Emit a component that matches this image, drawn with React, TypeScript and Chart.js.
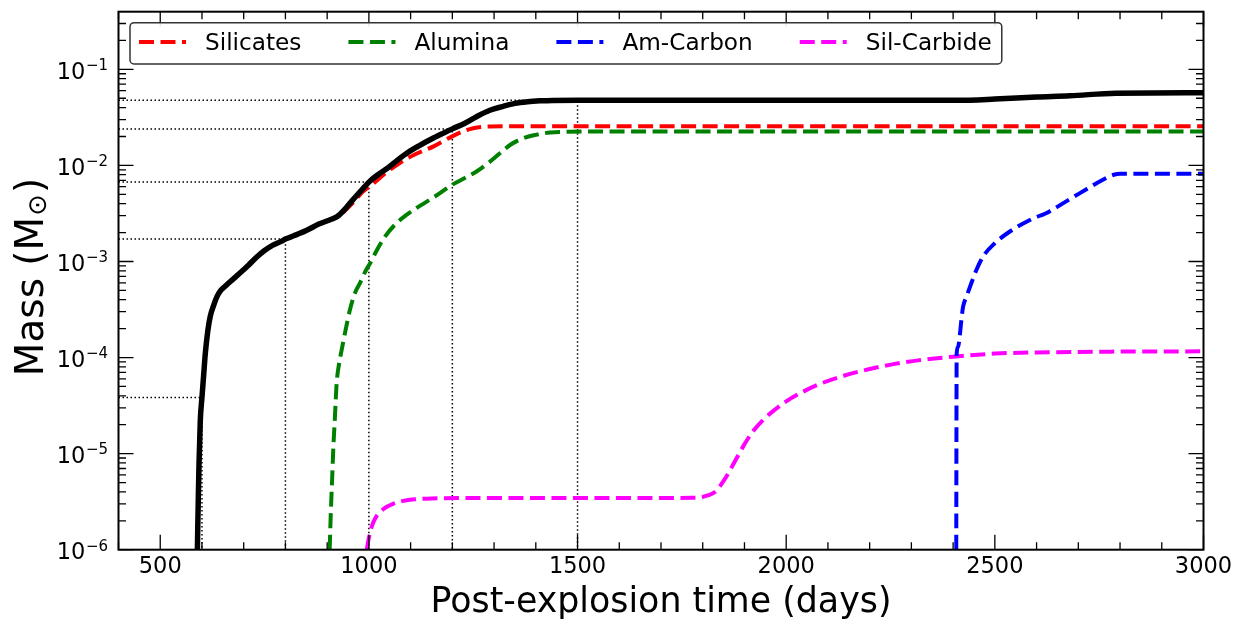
import React, { useEffect, useRef } from "react";
import { Chart, registerables } from "chart.js";

Chart.register(...registerables);

const FONT = "'DejaVu Sans', 'Liberation Sans', sans-serif";

// ---- data ----
const totalDays = [589, 591, 593, 596, 600, 604, 608, 614, 620, 628, 636, 645, 655, 668, 682, 697, 712, 730, 750, 770, 790, 800, 820, 850, 880, 910, 925, 945, 960, 975, 990, 1000, 1020, 1045, 1070, 1095, 1120, 1150, 1180, 1200, 1230, 1260, 1290, 1320, 1350, 1380, 1410, 1440, 1500, 2410, 2500, 2600, 2680, 2790, 3000];
const totalMass = [1e-6, 3e-6, 8e-6, 2.2e-5, 3.85e-5, 6.5e-5, 1.1e-4, 1.9e-4, 2.7e-4, 3.5e-4, 4.3e-4, 5.0e-4, 5.5e-4, 6.2e-4, 7.0e-4, 8.0e-4, 9.2e-4, 1.1e-3, 1.3e-3, 1.48e-3, 1.62e-3, 1.71e-3, 1.85e-3, 2.1e-3, 2.45e-3, 2.75e-3, 2.95e-3, 3.6e-3, 4.3e-3, 5.1e-3, 6.0e-3, 6.7e-3, 7.9e-3, 9.4e-3, 1.15e-2, 1.38e-2, 1.6e-2, 1.88e-2, 2.18e-2, 2.4e-2, 2.75e-2, 3.25e-2, 3.75e-2, 4.1e-2, 4.42e-2, 4.6e-2, 4.7e-2, 4.75e-2, 4.76e-2, 4.76e-2, 4.9e-2, 5.15e-2, 5.3e-2, 5.65e-2, 5.7e-2];

const silicatesDays = [589, 591, 593, 596, 600, 604, 608, 614, 620, 628, 636, 645, 655, 668, 682, 697, 712, 730, 750, 770, 790, 800, 820, 850, 880, 910, 925, 940, 962, 985, 1007, 1040, 1074, 1110, 1154, 1202, 1230, 1250, 1270, 1290, 1320, 1400, 3000];
const silicatesMass = [1e-6, 3e-6, 8e-6, 2.2e-5, 3.85e-5, 6.5e-5, 1.1e-4, 1.9e-4, 2.7e-4, 3.5e-4, 4.3e-4, 5.0e-4, 5.5e-4, 6.2e-4, 7.0e-4, 8.0e-4, 9.2e-4, 1.1e-3, 1.3e-3, 1.48e-3, 1.62e-3, 1.71e-3, 1.85e-3, 2.1e-3, 2.45e-3, 2.75e-3, 2.9e-3, 3.3e-3, 4.1e-3, 5.3e-3, 6.3e-3, 8.3e-3, 1.06e-2, 1.3e-2, 1.57e-2, 2.03e-2, 2.3e-2, 2.44e-2, 2.52e-2, 2.54e-2, 2.55e-2, 2.55e-2, 2.55e-2];

const aluminaDays = [906, 909, 912, 914.6, 918.7, 922.8, 928.5, 934.8, 942.7, 954.6, 966.6, 978.6, 991, 1003, 1020, 1040, 1066, 1090, 1114, 1160, 1200, 1230, 1258, 1285, 1314, 1340, 1370, 1400, 1434, 1480, 1540, 1700, 3000];
const aluminaMass = [1e-6, 2.6e-6, 5.5e-6, 1.1e-5, 2.44e-5, 5.4e-5, 8.6e-5, 1.2e-4, 1.8e-4, 3.14e-4, 4.69e-4, 5.96e-4, 7.8e-4, 9.6e-4, 1.33e-3, 1.85e-3, 2.5e-3, 3.05e-3, 3.6e-3, 4.8e-3, 6.3e-3, 7.4e-3, 8.65e-3, 1.05e-2, 1.34e-2, 1.65e-2, 1.92e-2, 2.08e-2, 2.2e-2, 2.24e-2, 2.25e-2, 2.25e-2, 2.25e-2];

const carbonDays = [2407.5, 2408.5, 2412, 2416, 2420, 2424, 2432, 2444, 2456, 2472, 2500, 2536, 2584, 2630, 2664, 2704, 2759, 2785, 2800, 3000];
const carbonMass = [1e-6, 1.1e-4, 1.3e-4, 1.7e-4, 2.5e-4, 3.4e-4, 4.3e-4, 6.0e-4, 8.2e-4, 1.13e-3, 1.55e-3, 2.05e-3, 2.7e-3, 3.3e-3, 4.05e-3, 5.15e-3, 7.1e-3, 8.0e-3, 8.2e-3, 8.2e-3];

const sicDays = [995, 998, 1002, 1008, 1016, 1026, 1040, 1058, 1080, 1110, 1150, 1250, 1500, 1790, 1810, 1830, 1850, 1870, 1897, 1920, 1945, 1970, 2000, 2040, 2080, 2140, 2200, 2260, 2320, 2400, 2500, 2600, 2750, 3000];
const sicMass = [1e-6, 1.2e-6, 1.45e-6, 1.8e-6, 2.15e-6, 2.45e-6, 2.75e-6, 3.0e-6, 3.2e-6, 3.35e-6, 3.42e-6, 3.45e-6, 3.45e-6, 3.47e-6, 3.65e-6, 4.0e-6, 5.2e-6, 7.3e-6, 1.19e-5, 1.7e-5, 2.25e-5, 2.8e-5, 3.5e-5, 4.4e-5, 5.3e-5, 6.5e-5, 7.6e-5, 8.6e-5, 9.4e-5, 1.02e-4, 1.1e-4, 1.13e-4, 1.15e-4, 1.16e-4];

// dotted guide lines: total mass at selected epochs
const markerDays = [600, 800, 1000, 1200, 1500];
const markerMass = [3.85e-5, 1.71e-3, 6.7e-3, 2.4e-2, 4.76e-2];

const xMin = 400;
const xMax = 3000;
const xMinorStep = 100;
const xMajorStep = 500;
const yMin = 1e-6;
const yMax = 0.398;
const yExponents = [-6, -5, -4, -3, -2, -1];
const legendLabels = ["Silicates", "Alumina", "Am-Carbon", "Sil-Carbide"];

const pts = (xs: number[], ys: number[]) => xs.map((x, i) => ({ x, y: ys[i] }));

const DASH = [15, 6.5];

const curve = (label: string, color: string, data: any, width: number, dash: number[]) => ({
  label,
  data,
  borderColor: color,
  backgroundColor: color,
  borderWidth: width,
  borderDash: dash,
  borderCapStyle: "butt",
  borderJoinStyle: "round",
  pointRadius: 0,
  fill: false,
  cubicInterpolationMode: "monotone",
  clip: 0,
});

const isMajorY = (v: number) => {
  const e = Math.floor(Math.log10(v) + 1e-9);
  return Math.abs(v / Math.pow(10, e) - 1) < 1e-6;
};

const axesPlugin = {
  id: "axesDecor",
  afterDatasetsDraw(chart: any) {
    const { ctx, chartArea } = chart;
    const { left, right, top, bottom } = chartArea;
    const xs = chart.scales.x;
    const ys = chart.scales.y;
    ctx.save();
    ctx.strokeStyle = "#000";
    ctx.lineWidth = 1.3;
    ctx.beginPath();
    xs.ticks.forEach((t: any) => {
      const px = xs.getPixelForValue(t.value);
      const len = t.value % xMajorStep === 0 ? 15 : 7.5;
      ctx.moveTo(px, bottom);
      ctx.lineTo(px, bottom - len);
      ctx.moveTo(px, top);
      ctx.lineTo(px, top + len);
    });
    ys.ticks.forEach((t: any) => {
      const py = ys.getPixelForValue(t.value);
      const len = isMajorY(t.value) ? 15 : 7.5;
      ctx.moveTo(left, py);
      ctx.lineTo(left + len, py);
      ctx.moveTo(right, py);
      ctx.lineTo(right - len, py);
    });
    ctx.stroke();
    ctx.lineWidth = 2;
    ctx.strokeRect(left, top, right - left, bottom - top);

    // y tick labels 10^n
    ctx.fillStyle = "#000";
    ctx.textBaseline = "alphabetic";
    ctx.textAlign = "left";
    const rx = left - 10.5;
    yExponents.forEach((e) => {
      const v = Math.pow(10, e);
      const py = ys.getPixelForValue(v);
      const sup = "\u2212" + String(Math.abs(e));
      ctx.font = `15px ${FONT}`;
      const wSup = ctx.measureText(sup).width;
      ctx.font = `22.5px ${FONT}`;
      const w10 = ctx.measureText("10").width;
      ctx.fillText("10", rx - wSup - w10 - 0.5, py + 9.5);
      ctx.font = `15px ${FONT}`;
      ctx.fillText(sup, rx - wSup, py + 0.8);
    });

    // y axis title: Mass (M_sun)
    const main1 = "Mass (M";
    const sub = "\u2299";
    const main2 = ")";
    ctx.font = `39px ${FONT}`;
    const w1 = ctx.measureText(main1).width;
    const w3 = ctx.measureText(main2).width;
    ctx.font = `26px ${FONT}`;
    const w2 = ctx.measureText(sub).width;
    const total = w1 + w2 + w3 + 2;
    ctx.translate(43, 277);
    ctx.rotate(-Math.PI / 2);
    let cx = -total / 2;
    ctx.font = `39px ${FONT}`;
    ctx.fillText(main1, cx, 0);
    cx += w1 + 1;
    ctx.font = `26px ${FONT}`;
    ctx.fillText(sub, cx, 3);
    cx += w2 + 1;
    ctx.font = `39px ${FONT}`;
    ctx.fillText(main2, cx, 0);
    ctx.restore();
  },
};

const legendPlugin = {
  id: "boxLegend",
  afterDraw(chart: any) {
    const { ctx } = chart;
    const datasets = chart.data.datasets;
    ctx.save();
    ctx.font = `23.2px ${FONT}`;
    const boxLeft = 130;
    const boxTop = 22.7;
    const boxH = 41.3;
    const sampleLen = 47;
    const textGap = 19;
    const itemGap = 47;
    let x = 139;
    const items: any[] = [];
    legendLabels.forEach((lab) => {
      const ds = datasets.find((d: any) => d.label === lab);
      const tw = ctx.measureText(lab).width;
      items.push({ lab, ds, x, tx: x + sampleLen + textGap, tw });
      x = x + sampleLen + textGap + tw + itemGap;
    });
    const last = items[items.length - 1];
    const boxRight = last.tx + last.tw + 10;
    const r = 4;
    ctx.beginPath();
    ctx.moveTo(boxLeft + r, boxTop);
    ctx.lineTo(boxRight - r, boxTop);
    ctx.arcTo(boxRight, boxTop, boxRight, boxTop + r, r);
    ctx.lineTo(boxRight, boxTop + boxH - r);
    ctx.arcTo(boxRight, boxTop + boxH, boxRight - r, boxTop + boxH, r);
    ctx.lineTo(boxLeft + r, boxTop + boxH);
    ctx.arcTo(boxLeft, boxTop + boxH, boxLeft, boxTop + boxH - r, r);
    ctx.lineTo(boxLeft, boxTop + r);
    ctx.arcTo(boxLeft, boxTop, boxLeft + r, boxTop, r);
    ctx.closePath();
    ctx.fillStyle = "rgba(255,255,255,0.9)";
    ctx.fill();
    ctx.strokeStyle = "#333";
    ctx.lineWidth = 1.5;
    ctx.stroke();

    const ly = 42;
    items.forEach((it) => {
      ctx.save();
      ctx.strokeStyle = it.ds.borderColor;
      ctx.lineWidth = it.ds.borderWidth;
      ctx.setLineDash(it.ds.borderDash || []);
      ctx.beginPath();
      ctx.moveTo(it.x, ly);
      ctx.lineTo(it.x + sampleLen, ly);
      ctx.stroke();
      ctx.restore();
      ctx.fillStyle = "#000";
      ctx.textBaseline = "alphabetic";
      ctx.textAlign = "left";
      ctx.fillText(it.lab, it.tx, 50);
    });
    ctx.restore();
  },
};

export default function App() {
  const ref = useRef<HTMLCanvasElement>(null);
  useEffect(() => {
    document.body.style.margin = "0";
    const markerSets = markerDays.map((d, i) => ({
      label: "guide" + i,
      data: [
        { x: xMin, y: markerMass[i] },
        { x: d, y: markerMass[i] },
        { x: d, y: yMin },
      ],
      borderColor: "#000",
      borderWidth: 1.5,
      borderDash: [1.5, 2.5],
      pointRadius: 0,
      tension: 0,
      fill: false,
      clip: 0,
    }));
    const chart = new Chart(ref.current as HTMLCanvasElement, {
      type: "line",
      data: {
        datasets: [
          curve("Total", "#000000", pts(totalDays, totalMass), 5.5, []),
          curve("Silicates", "#ff0000", pts(silicatesDays, silicatesMass), 4, DASH),
          curve("Alumina", "#008000", pts(aluminaDays, aluminaMass), 4, DASH),
          curve("Am-Carbon", "#0000ff", pts(carbonDays, carbonMass), 4, DASH),
          curve("Sil-Carbide", "#ff00ff", pts(sicDays, sicMass), 4, DASH),
          ...markerSets,
        ] as any,
      },
      options: {
        animation: false,
        responsive: true,
        maintainAspectRatio: false,
        devicePixelRatio: 1,
        events: [],
        layout: { padding: { left: 118.5, right: 36.5, top: 11.7, bottom: 0 } },
        plugins: {
          legend: { display: false },
          tooltip: { enabled: false },
        },
        scales: {
          x: {
            type: "linear",
            min: xMin,
            max: xMax,
            bounds: "data",
            grid: { display: false, drawTicks: false },
            border: { display: false },
            afterBuildTicks: (scale: any) => {
              const t: any[] = [];
              for (let v = xMin; v <= xMax; v += xMinorStep) t.push({ value: v });
              scale.ticks = t;
            },
            ticks: {
              autoSkip: false,
              maxRotation: 0,
              minRotation: 0,
              padding: 5.75,
              color: "#000",
              font: { family: FONT, size: 22.5, lineHeight: 1 },
              callback: (v: any) => (Number(v) % xMajorStep === 0 ? String(v) : ""),
            },
            title: {
              display: true,
              text: "Post-explosion time (days)",
              color: "#000",
              font: { family: FONT, size: 34.8, lineHeight: 1 },
              padding: { top: 2.25, bottom: 0.25 },
            },
          },
          y: {
            type: "logarithmic",
            min: yMin,
            max: yMax,
            bounds: "data",
            grid: { display: false, drawTicks: false },
            border: { display: false },
            afterBuildTicks: (scale: any) => {
              const t: any[] = [];
              yExponents.forEach((e) => {
                for (let k = 1; k <= 9; k++) {
                  const v = k * Math.pow(10, e);
                  if (v <= yMax * 1.0001) t.push({ value: v });
                }
              });
              scale.ticks = t;
            },
            ticks: { display: false },
          },
        },
      } as any,
      plugins: [axesPlugin, legendPlugin],
    });
    return () => chart.destroy();
  }, []);
  return (
    <div style={{ width: 1240, height: 621, position: "relative" }}>
      <canvas ref={ref} />
    </div>
  );
}
